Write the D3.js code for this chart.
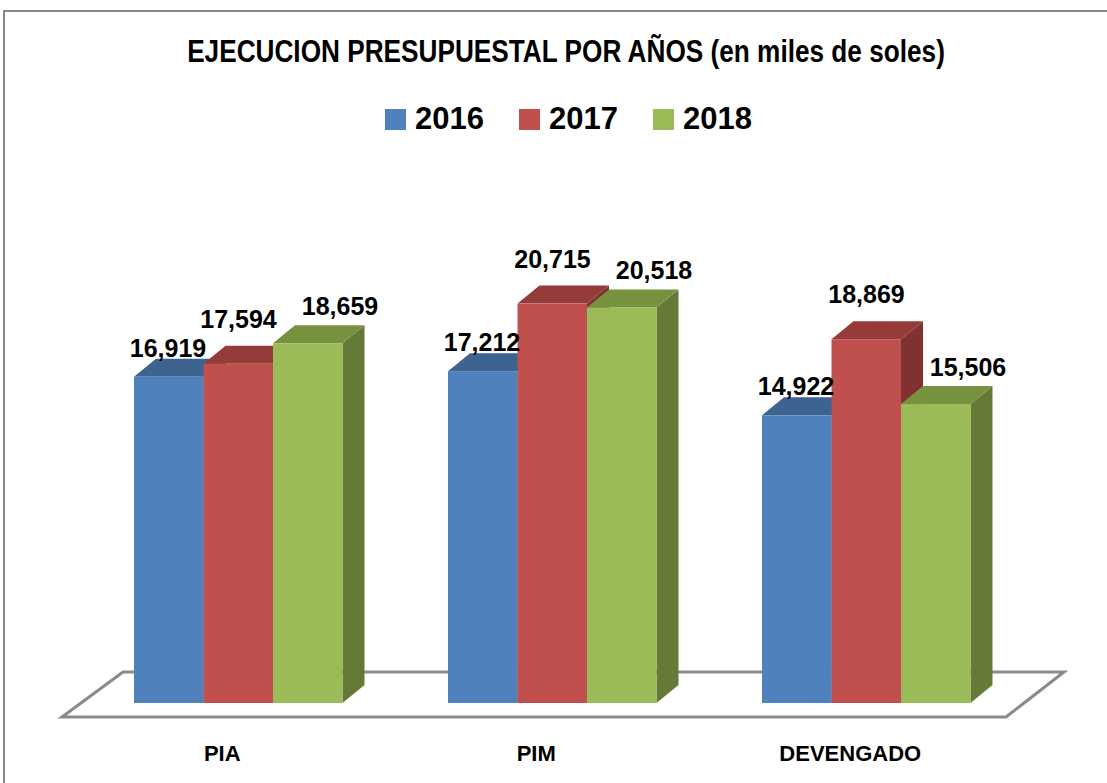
<!DOCTYPE html>
<html><head><meta charset="utf-8">
<script src="https://cdn.jsdelivr.net/npm/d3@7"></script>
<style>
html,body{margin:0;padding:0;background:#fff;}
svg{display:block;}
</style></head>
<body>
<svg id="chart" width="1107" height="783"></svg>
<script>
// ---- data ----
const categories = ["PIA", "PIM", "DEVENGADO"];
const seriesNames = ["2016", "2017", "2018"];
const values2016 = [16919, 17212, 14922];
const values2017 = [17594, 20715, 18869];
const values2018 = [18659, 20518, 15506];
const titleText = "EJECUCION PRESUPUESTAL POR AÑOS (en miles de soles)";

// ---- styles ----
const front = ["#4F81BD", "#C0504D", "#9BBB59"];
const topC  = ["#3D6391", "#953B39", "#77923F"];
const sideC = ["#34557D", "#7F3230", "#657A37"];
const labelOff = [{dx:34, dy:-20}, {dx:35, dy:-36}, {dx:67, dy:-28}];
const DX = 22, DY = -18;

const seriesValues = [values2016, values2017, values2018];
const svg = d3.select("#chart");

// border
svg.append("rect").attr("x",4).attr("y",11).attr("width",1200).attr("height",900)
  .attr("fill","none").attr("stroke","#878787").attr("stroke-width",2);

// title (fit to the reference width by scaling horizontally)
const tg = svg.append("g");
const tt = tg.append("text").attr("x",0).attr("y",0).attr("text-anchor","middle")
  .attr("font-family","'Liberation Sans Narrow','Arial Narrow','Liberation Sans',sans-serif")
  .attr("font-weight","bold").attr("font-size",32)
  .text(titleText);
const natW = tt.node().getComputedTextLength();
const sx = Math.min(1, 758 / natW);
tg.attr("transform", `translate(566,62) scale(${sx},1)`);

// legend
const legX = [385, 519, 653];
const leg = svg.append("g");
seriesNames.forEach((s,i)=>{
  leg.append("rect").attr("x",legX[i]).attr("y",109).attr("width",21).attr("height",21).attr("fill",front[i]);
  leg.append("text").attr("x",legX[i]+30).attr("y",129)
    .attr("font-family","'Liberation Sans',Arial,sans-serif").attr("font-weight","bold")
    .attr("font-size",31).text(s);
});

// scales
const x0 = d3.scaleBand().domain(categories).range([81.25, 1023.25]).paddingInner(0.336).paddingOuter(0.168);
const x1 = d3.scaleBand().domain(seriesNames).range([0, x0.bandwidth()]);
const y = d3.scaleLinear().domain([0, 25000]).range([703, 221]);

// floor
const yb = y(0);
const fl = [[62, yb+14],[123, yb-31],[1064, yb-31],[1006, yb+14]];
svg.append("path").attr("d", d3.line()(fl)+"Z")
  .attr("fill","#fff").attr("stroke","#8a8a8a").attr("stroke-width",3);

// bars
const g = svg.append("g");
categories.forEach((c,ci)=>{
  seriesNames.forEach((s,si)=>{
    const v = seriesValues[si][ci];
    const xl = x0(c) + x1(s), xr = xl + x1.bandwidth();
    const yt = y(v);
    g.append("path").attr("d", d3.line()([[xr,yt],[xr+DX,yt+DY],[xr+DX,yb+DY],[xr,yb]])+"Z")
      .attr("fill", sideC[si]);
    g.append("path").attr("d", d3.line()([[xl,yt],[xl+DX,yt+DY],[xr+DX,yt+DY],[xr,yt]])+"Z")
      .attr("fill", topC[si]);
    g.append("rect").attr("x",xl).attr("y",yt).attr("width",x1.bandwidth()).attr("height",yb-yt)
      .attr("fill", front[si]);
  });
});

// labels
const fmt = d3.format(",");
categories.forEach((c,ci)=>{
  seriesNames.forEach((s,si)=>{
    const v = seriesValues[si][ci];
    const xl = x0(c) + x1(s);
    svg.append("text").attr("x", xl + labelOff[si].dx).attr("y", y(v) + labelOff[si].dy)
      .attr("text-anchor","middle")
      .attr("font-family","'Liberation Sans',Arial,sans-serif").attr("font-weight","bold")
      .attr("font-size",25).attr("fill","#000").text(fmt(v));
  });
});

// category axis labels
categories.forEach(c=>{
  svg.append("text").attr("x", x0(c) + x0.bandwidth()/2 - 16).attr("y", 761)
    .attr("text-anchor","middle")
    .attr("font-family","'Liberation Sans',Arial,sans-serif").attr("font-weight","bold")
    .attr("font-size",22).text(c);
});
</script>
</body></html>
